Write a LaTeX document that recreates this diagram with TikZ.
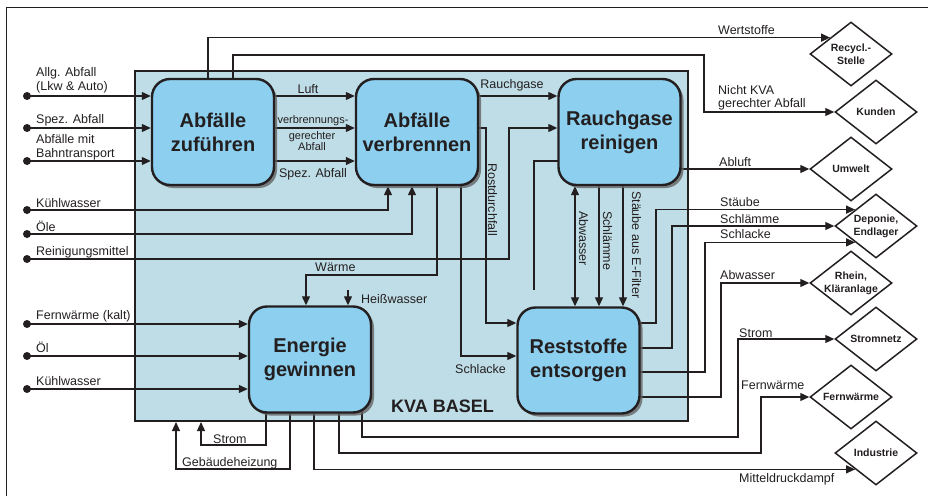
\documentclass[tikz,border=0pt]{standalone}
\usepackage{fontspec}
\setmainfont{Liberation Sans}
\usetikzlibrary{arrows.meta,shapes.geometric,shadows}
\pgfdeclarelayer{bg}\pgfdeclarelayer{mid}\pgfsetlayers{bg,mid,main}
\definecolor{kvafill}{RGB}{191,221,230}
\definecolor{boxfill}{RGB}{140,207,238}
\definecolor{ink}{RGB}{35,31,32}
\begin{document}
\begin{tikzpicture}[x=1pt,y=-1pt,
  conn/.style={draw=ink, line width=1.2pt},
  arr/.style={conn, -{Triangle[length=9pt,width=8pt]}},
  darr/.style={conn, {Triangle[length=9pt,width=8pt]}-{Triangle[length=9pt,width=8pt]}},
  procbox/.style={draw=ink, line width=2.4pt, fill=boxfill, rounded corners=18pt, minimum width=122pt, minimum height=106pt, align=center, text=ink, font=\bfseries\fontsize{20}{24}\selectfont, drop shadow={shadow xshift=3pt, shadow yshift=-3pt, fill=black!60, opacity=0.8}},
  diam/.style={diamond, draw=ink, line width=1.5pt, fill=white, minimum width=82pt, minimum height=64pt, inner sep=-8pt, align=center, text=ink, font=\bfseries\fontsize{10.5}{13}\selectfont},
  lbl/.style={font=\fontsize{12.5}{14}\selectfont, inner sep=0pt, anchor=base west, text=ink},
  slbl/.style={lbl, font=\fontsize{11}{12}\selectfont, anchor=base},
  vlbl/.style={lbl, rotate=-90},
  dot/.style={circle, fill=ink, inner sep=0pt, minimum size=8pt},
]
\useasboundingbox (0,0) rectangle (928,495);
\draw[ink, line width=1pt] (6,496) -- (6,8) -- (929,8);

\begin{pgfonlayer}{bg}
\node[draw=ink, line width=2pt, fill=kvafill, minimum width=553pt, minimum height=350pt, inner sep=0pt] (kva) at (411.5,246) {};
\end{pgfonlayer}

% process boxes
\node[procbox] (zu)  at (213,132) {Abfälle\\zuführen};
\node[procbox] (ver) at (417,132) {Abfälle\\verbrennen};
\node[procbox] (rr)  at (619.5,132) {Rauchgase\\reinigen};
\node[procbox] (en)  at (310,359.5) {Energie\\gewinnen};
\node[procbox] (res) at (578.5,360.5) {Reststoffe\\entsorgen};

% destinations
\node[diam] (recy) at (851,54) {Recycl.-\\Stelle};
\node[diam] (kun)  at (876,112) {Kunden};
\node[diam] (um)   at (851,169) {Umwelt};
\node[diam] (dep)  at (876,226) {Deponie,\\Endlager};
\node[diam] (rh)   at (851,283) {Rhein,\\Kläranlage};
\node[diam] (sn)   at (876,339) {Stromnetz};
\node[diam] (fw)   at (851,397) {Fernwärme};
\node[diam] (ind)  at (876,453) {Industrie};

% input dots
\node[dot] (d1) at (27,96) {};
\node[dot] (d2) at (27,128) {};
\node[dot] (d3) at (27,161) {};
\node[dot] (d4) at (27,210) {};
\node[dot] (d5) at (27,234) {};
\node[dot] (d6) at (27,259) {};
\node[dot] (d7) at (27,324) {};
\node[dot] (d8) at (27,356) {};
\node[dot] (d9) at (27,389) {};
\coordinate (loose) at (534,290);
\coordinate (hw) at (348,290);

\begin{pgfonlayer}{mid}
% inputs
\draw[arr] (d1.center) -- (zu.west |- d1);
\draw[arr] (d2.center) -- (zu.west |- d2);
\draw[arr] (d3.center) -- (zu.west |- d3);
\draw[arr] (d4.center) -- (388,210) -- (388,0 |- ver.south);
\draw[arr] (d5.center) -- (412,234) -- (412,0 |- ver.south);
\draw[arr] (d6.center) -- (509,259) -- (509,128) -- (rr.west |- 0,128);
\draw[arr] (d7.center) -- (en.west |- d7);
\draw[arr] (d8.center) -- (en.west |- d8);
\draw[arr] (d9.center) -- (en.west |- d9);
% internal flows
\draw[arr] (zu.center |- 0,96) -- (ver.west |- 0,96);
\draw[arr] (zu.center |- 0,128) -- (ver.west |- 0,128);
\draw[arr] (zu.center |- 0,161) -- (ver.west |- 0,161);
\draw[arr] (ver.center |- 0,96) -- (rr.west |- 0,96);
\draw[arr] (ver.center |- 0,128) -- (486,128) -- (486,323) -- (res.west |- 0,323);
\draw[arr] (461,0 |- ver.center) -- (461,356) -- (res.west |- 0,356);
\draw[arr] (437,0 |- ver.center) -- (437,275) -- (306,275) -- (306,0 |- en.north);
\draw[conn] (rr.center |- 0,161) -- (534,161) -- (loose);
\draw[arr] (hw) -- (348,0 |- en.north);
\draw[darr] (575,0 |- rr.south) -- (575,0 |- res.north);
\draw[arr] (599,0 |- rr.center) -- (599,0 |- res.north);
\draw[arr] (623,0 |- rr.center) -- (623,0 |- res.north);
% outputs from Abfälle zuführen
\draw[arr] (208,0 |- zu.center) -- (208,0 |- recy.north west) -- (recy.north west);
\draw[arr] (233,0 |- zu.center) -- (233,55) -- (704,55) -- (704,0 |- kun.west) -- (kun.west);
% Abluft
\draw[arr] (rr.center |- um.west) -- (um.west);
% outputs from Reststoffe
\draw[arr] (res.center |- 0,323) -- (656,323) -- (656,0 |- dep.north west) -- (dep.north west);
\draw[arr] (res.center |- 0,348) -- (672,348) -- (672,0 |- dep.west) -- (dep.west);
\draw[arr] (res.center |- 0,372) -- (705,372) -- (705,0 |- dep.south west) -- (dep.south west);
\draw[arr] (res.center |- 0,397) -- (721,397) -- (721,0 |- rh.west) -- (rh.west);
% outputs from Energie
\draw[arr] (266,0 |- en.center) -- (266,445) -- (201,445) -- (201,0 |- kva.south);
\draw[arr] (290,0 |- en.center) -- (290,469) -- (176,469) -- (176,0 |- kva.south);
\draw[arr] (314,0 |- en.center) -- (314,0 |- ind.south west) -- (ind.south west);
\draw[arr] (339,0 |- en.center) -- (339,453) -- (761,453) -- (761,0 |- fw.west) -- (fw.west);
\draw[arr] (362,0 |- en.center) -- (362,437) -- (738,437) -- (738,0 |- sn.west) -- (sn.west);
\end{pgfonlayer}

% left labels
\node[lbl] (t1) at (36,76) {Allg. Abfall};
\node[lbl] (t2) at (36,90) {(Lkw \& Auto)};
\node[lbl] (t3) at (36,123) {Spez. Abfall};
\node[lbl] (t4) at (36,143) {Abfälle mit};
\node[lbl] (t5) at (36,157) {Bahntransport};
\node[lbl] (t6) at (36,207) {Kühlwasser};
\node[lbl] (t7) at (36,231) {Öle};
\node[lbl] (t8) at (36,255) {Reinigungsmittel};
\node[lbl] (t9) at (36,319) {Fernwärme (kalt)};
\node[lbl] (t10) at (36,352) {Öl};
\node[lbl] (t11) at (36,385) {Kühlwasser};
% inner labels
\node[lbl, anchor=base] (i1) at (308,93) {Luft};
\node[slbl] (i2) at (313,123) {verbrennungs-};
\node[slbl] (i3) at (312,139) {gerechter};
\node[slbl] (i4) at (312,150) {Abfall};
\node[lbl, anchor=base] (i5) at (313,177) {Spez. Abfall};
\node[lbl, anchor=base] (i6) at (512,88) {Rauchgase};
\node[lbl] (i7) at (315,271) {Wärme};
\node[lbl] (i8) at (361,303) {Heißwasser};
\node[lbl] (i9) at (455,373) {Schlacke};
\node[lbl, font=\bfseries\fontsize{18}{20}\selectfont] (i10) at (391,412) {KVA BASEL};
\node[lbl] (i11) at (213,443) {Strom};
\node[lbl] (i12) at (182,466) {Gebäudeheizung};
\node[vlbl] (v1) at (488,163) {Rostdurchfall};
\node[vlbl] (v2) at (579,211) {Abwasser};
\node[vlbl] (v3) at (603,211) {Schlämme};
\node[vlbl] (v4) at (632,191) {Stäube aus E-Filter};
% right labels
\node[lbl] (r1) at (718,35) {Wertstoffe};
\node[lbl] (r2) at (718,94) {Nicht KVA};
\node[lbl] (r3) at (718,107) {gerechter Abfall};
\node[lbl] (r4) at (719,166) {Abluft};
\node[lbl] (r5) at (720,206) {Stäube};
\node[lbl] (r6) at (720,223) {Schlämme};
\node[lbl] (r7) at (720,238) {Schlacke};
\node[lbl] (r8) at (720,279) {Abwasser};
\node[lbl] (r9) at (739,337) {Strom};
\node[lbl] (r10) at (741,389) {Fernwärme};
\node[lbl] (r11) at (739,482) {Mitteldruckdampf};
\end{tikzpicture}
\end{document}
